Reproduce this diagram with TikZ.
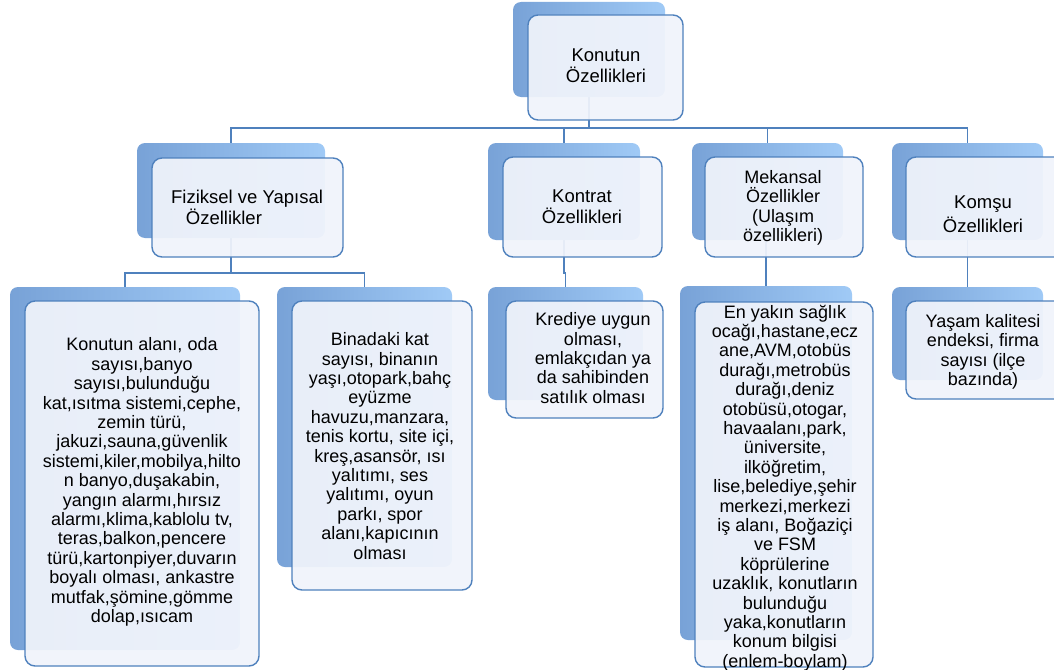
\documentclass[tikz,border=0pt]{standalone}
\usepackage{fontspec}
\setmainfont{Liberation Sans}
\pgfdeclarelayer{bg}
\pgfsetlayers{bg,main}
\definecolor{frame}{RGB}{79,129,189}
\definecolor{bkL}{RGB}{120,162,215}
\definecolor{bkR}{RGB}{160,202,246}
\definecolor{frontfill}{RGB}{241,244,251}
\newcommand\lblfont{\fontsize{18}{19.4}\selectfont}
\newcommand\headfont{\fontsize{18.5}{21}\selectfont}
\tikzset{
  backbox/.style={rounded corners=8pt, draw=none, left color=bkL, right color=bkR, inner sep=0pt},
  frontbox/.style={rounded corners=10pt, draw=frame, line width=1.4pt, fill=frontfill, fill opacity=0.93, inner sep=0pt},
  conn/.style={draw=frame, line width=1.4pt},
  lbl/.style={align=center, font=\lblfont, text=black, inner sep=0pt},
  head/.style={align=center, font=\headfont, text=black, inner sep=0pt}
}
\begin{document}
\begin{tikzpicture}[x=1pt,y=-1pt]
\useasboundingbox (0,0) rectangle (1054,669);
% back boxes
\node[backbox, minimum width=152pt, minimum height=95pt] (rootb) at (589,49.5) {};
\node[backbox, minimum width=188pt, minimum height=95pt] (fizb) at (231,190.5) {};
\node[backbox, minimum width=152pt, minimum height=97pt] (konb) at (564,191.5) {};
\node[backbox, minimum width=151pt, minimum height=97pt] (mekb) at (767.5,191.5) {};
\node[backbox, minimum width=151pt, minimum height=97pt] (komb) at (967.5,191.5) {};
\node[backbox, minimum width=230pt, minimum height=363pt] (leftb) at (125,468.5) {};
\node[backbox, minimum width=175pt, minimum height=280pt] (binb) at (364.5,427) {};
\node[backbox, minimum width=155pt, minimum height=113pt] (kredb) at (565.5,343.5) {};
\node[backbox, minimum width=172pt, minimum height=354pt] (mekcb) at (766,463) {};
\node[backbox, minimum width=151pt, minimum height=93pt] (komcb) at (967.5,333.5) {};
% front boxes
\node[frontbox, minimum width=155pt, minimum height=105pt] (rootf) at (605.5,67.5) {};
\node[frontbox, minimum width=191pt, minimum height=99pt] (fizf) at (247.5,207.5) {};
\node[frontbox, minimum width=159pt, minimum height=100pt] (konf) at (582.5,207) {};
\node[frontbox, minimum width=158pt, minimum height=100pt] (mekf) at (784,207) {};
\node[frontbox, minimum width=158pt, minimum height=100pt] (komf) at (985,207) {};
\node[frontbox, minimum width=234pt, minimum height=365pt] (leftf) at (142,483.5) {};
\node[frontbox, minimum width=180pt, minimum height=289pt] (binf) at (382,445.5) {};
\node[frontbox, minimum width=157pt, minimum height=117pt] (kredf) at (584.5,359.5) {};
\node[frontbox, minimum width=178pt, minimum height=365pt] (mekcf) at (784,484.5) {};
\node[frontbox, minimum width=158pt, minimum height=98pt] (komcf) at (985,350) {};
% texts
\node[head] (roott) at (606,66) {Konutun\\Özellikleri};
\node[head, align=left] (fizt) at (247,207) {Fiziksel ve Yapısal\\\hspace*{0.8em}Özellikler};
\node[head] (kont) at (582,207) {Kontrat\\Özellikleri};
\node[lbl] (mekt) at (783,208) {Mekansal\\Özellikler\\(Ulaşım\\özellikleri)};
\node[head, font=\fontsize{18.5}{23.5}\selectfont] (komt) at (983,214) {Komşu\\Özellikleri};
\node[lbl] (leftt) at (142,482) {Konutun alanı, oda\\sayısı,banyo\\sayısı,bulunduğu\\kat,ısıtma sistemi,cephe,\\zemin türü,\\jakuzi,sauna,güvenlik\\sistemi,kiler,mobilya,hilto\\n banyo,duşakabin,\\yangın alarmı,hırsız\\alarmı,klima,kablolu tv,\\teras,balkon,pencere\\türü,kartonpiyer,duvarın\\boyalı olması, ankastre\\mutfak,şömine,gömme\\dolap,ısıcam};
\node[lbl] (bint) at (380,446) {Binadaki kat\\sayısı, binanın\\yaşı,otopark,bahç\\eyüzme\\havuzu,manzara,\\tenis kortu, site içi,\\kreş,asansör, ısı\\yalıtımı, ses\\yalıtımı, oyun\\parkı, spor\\alanı,kapıcının\\olması};
\node[lbl] (kredt) at (593,358) {Krediye uygun\\olması,\\emlakçıdan ya\\da sahibinden\\satılık olması};
\node[lbl] (mekct) at (785,488) {En yakın sağlık\\ocağı,hastane,ecz\\ane,AVM,otobüs\\durağı,metrobüs\\durağı,deniz\\otobüsü,otogar,\\havaalanı,park,\\üniversite,\\ilköğretim,\\lise,belediye,şehir\\merkezi,merkezi\\iş alanı, Boğaziçi\\ve FSM\\köprülerine\\uzaklık, konutların\\bulunduğu\\yaka,konutların\\konum bilgisi\\(enlem-boylam)};
\node[lbl] (komct) at (983,352) {Yaşam kalitesi\\endeksi, firma\\sayısı (ilçe\\bazında)};
% connectors
\coordinate (bus1) at (0,128);
\coordinate (bus2) at (0,273);
\coordinate (bus3) at (0,273);
\begin{pgfonlayer}{bg}
\fill[white] (0,0) rectangle (1054,669);
\draw[conn] (rootb.center) -- (rootb.center |- bus1) -| (fizb.center);
\draw[conn] (rootb.center |- bus1) -| (konb.center);
\draw[conn] (rootb.center |- bus1) -| (mekb.center);
\draw[conn] (rootb.center |- bus1) -| (komb.center);
\draw[conn] (fizb.center) -- (fizb.center |- bus2) -| (leftb.center);
\draw[conn] (fizb.center |- bus2) -| (binb.center);
\draw[conn] (konb.center) -- (konb.center |- bus3) -| (kredb.center);
\draw[conn] (mekb.center) -- (mekcb.center |- mekb.center) -- (mekcb.center);
\draw[conn] (komb.center) -- (komcb.center);
\end{pgfonlayer}
\end{tikzpicture}
\end{document}
